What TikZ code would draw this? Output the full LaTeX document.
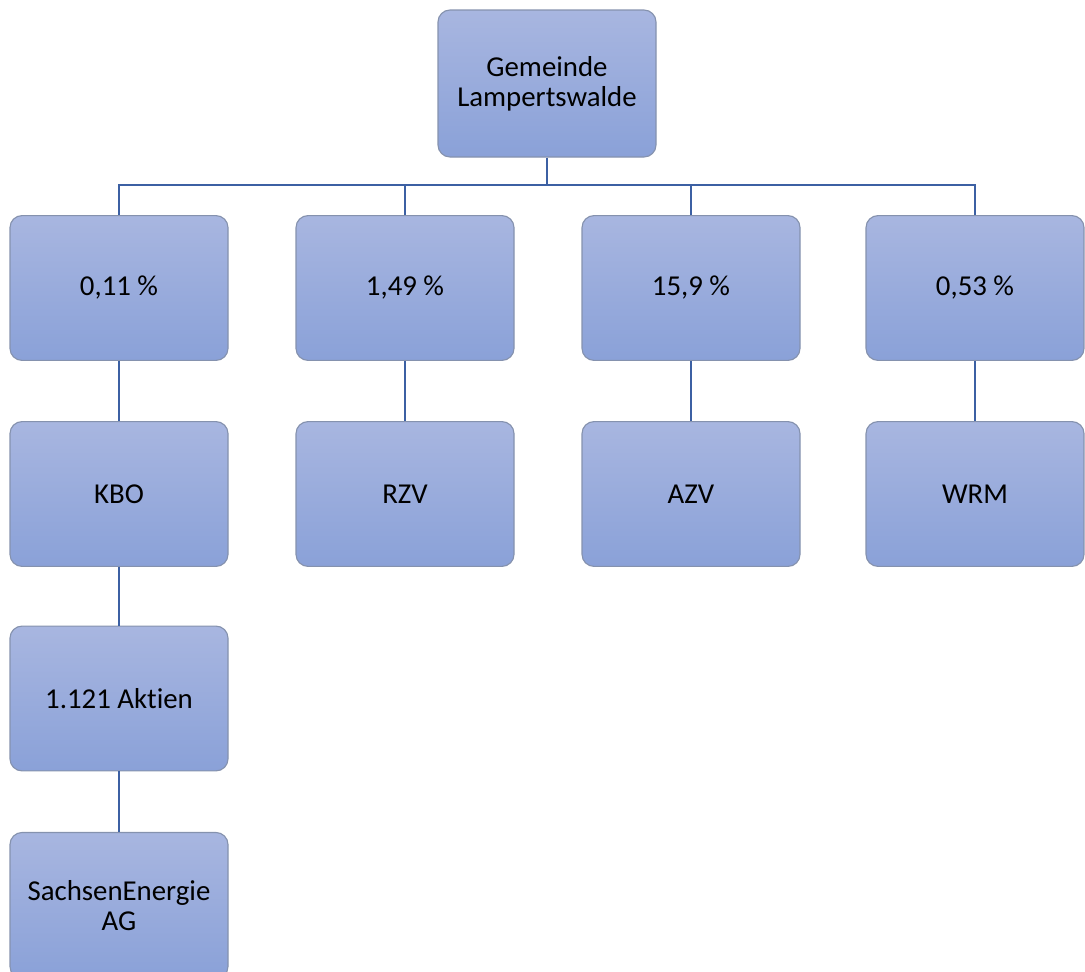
\documentclass[tikz,border=0pt]{standalone}
\usepackage{fontspec}
\setmainfont[Ligatures=NoCommon]{Carlito}
\usepackage{tikz}
\definecolor{boxtop}{HTML}{A8B6E0}
\definecolor{boxbot}{HTML}{8AA1D8}
\definecolor{boxline}{HTML}{8592AE}
\definecolor{linkblue}{HTML}{3C60A3}
\tikzset{
	orgbox/.style={rectangle, rounded corners=0.3cm, draw=boxline, line width=0.8pt, top color=boxtop, bottom color=boxbot, minimum width=5.45cm, minimum height=3.62cm, align=center, text=black, font=\fontsize{20.5}{21.5}\selectfont},
	link/.style={draw=linkblue, line width=1.6pt}
}

\begin{document}
\begin{tikzpicture}
		%%%%% START %%%%%
		
		\useasboundingbox (0, 0) rectangle (27.125, -24.3);
		
		\node[orgbox, minimum height=3.675cm] (gemeinde) at (13.675, -2.0875) {Gemeinde\\Lampertswalde};
		\coordinate (bus) at (13.675, -4.625);
		
		\node[orgbox] (kboanteil) at (2.975, -7.2) {0,11 \%};
		\node[orgbox] (rzvanteil) at (10.125, -7.2) {1,49 \%};
		\node[orgbox] (azvanteil) at (17.275, -7.2) {15,9 \%};
		\node[orgbox] (wrmanteil) at (24.375, -7.2) {0,53 \%};
		
		\node[orgbox] (kbo) at (2.975, -12.35) {KBO};
		\node[orgbox] (rzv) at (10.125, -12.35) {RZV};
		\node[orgbox] (azv) at (17.275, -12.35) {AZV};
		\node[orgbox] (wrm) at (24.375, -12.35) {WRM};
		
		\node[orgbox] (aktien) at (2.975, -17.4625) {1.121 Aktien};
		\node[orgbox, minimum height=3.65cm] (sachsen) at (2.975, -22.6375) {SachsenEnergie\\AG};
		
		\draw[link] (gemeinde.south) -- (bus);
		\draw[link] (bus) -| (kboanteil.north);
		\draw[link] (bus) -| (rzvanteil.north);
		\draw[link] (bus) -| (azvanteil.north);
		\draw[link] (bus) -| (wrmanteil.north);
		
		\draw[link] (kboanteil) -- (kbo);
		\draw[link] (rzvanteil) -- (rzv);
		\draw[link] (azvanteil) -- (azv);
		\draw[link] (wrmanteil) -- (wrm);
		\draw[link] (kbo) -- (aktien);
		\draw[link] (aktien) -- (sachsen);
		
		%%%%% END %%%%%
	\end{tikzpicture}
\end{document}
